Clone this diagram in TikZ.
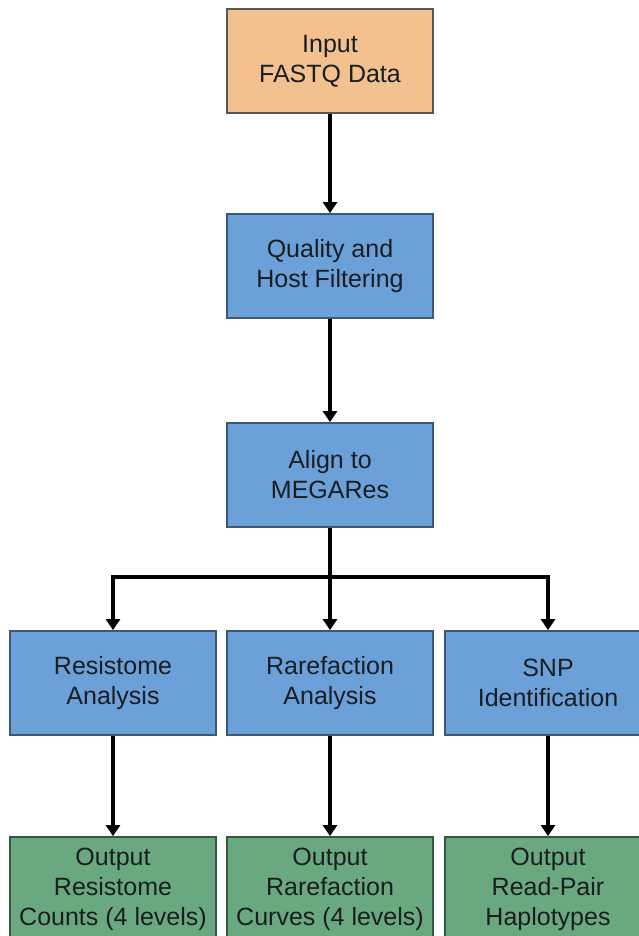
\documentclass[tikz,border=0pt]{standalone}
\usepackage{fontspec}
\setmainfont{Liberation Sans}
\usetikzlibrary{arrows.meta}
\definecolor{inputfill}{HTML}{F2C18F}
\definecolor{inputline}{HTML}{5A5550}
\definecolor{stepfill}{HTML}{6CA0D9}
\definecolor{stepline}{HTML}{3A5878}
\definecolor{outfill}{HTML}{6AA97F}
\definecolor{outline}{HTML}{2F5A3F}
\definecolor{boxtext}{HTML}{1A1E22}

\begin{document}
\begin{tikzpicture}[x=1pt,y=-1pt,
		box/.style={draw,line width=1.8pt,minimum width=206pt,minimum height=104pt,
			align=center,text=boxtext,font=\fontsize{25}{30}\selectfont},
		inbox/.style={box,fill=inputfill,draw=inputline},
		stepbox/.style={box,fill=stepfill,draw=stepline},
		outbox/.style={box,fill=outfill,draw=outline},
		flow/.style={line width=3.2pt,-{Triangle[length=11pt,width=14pt]}},
		link/.style={line width=3.2pt}]
			\useasboundingbox (0,0) rectangle (639,936);
			% pipeline
			\node[inbox] (input) at (330,61) {Input\\FASTQ Data};
			\node[stepbox] (filter) at (330,266) {Quality and\\Host Filtering};
			\node[stepbox] (align) at (330,475) {Align to\\MEGARes};
			\node[stepbox] (resist) at (113,683) {Resistome\\Analysis};
			\node[stepbox] (rare) at (330,683) {Rarefaction\\Analysis};
			\node[stepbox] (snp) at (548,683) {SNP\\Identification};
			% outputs
			\node[outbox] (resistout) at (113,889) {Output\\Resistome\\Counts (4 levels)};
			\node[outbox] (rareout) at (330,889) {Output\\Rarefaction\\Curves (4 levels)};
			\node[outbox] (snpout) at (548,889) {Output\\Read-Pair\\Haplotypes};
			\coordinate (hub) at (330,577);
			\draw[flow] (input) -- (filter);
			\draw[flow] (filter) -- (align);
			\draw[link] (align) -- (hub);
			\draw[flow] (hub) -| (resist.north);
			\draw[flow] (hub) -- (rare);
			\draw[flow] (hub) -| (snp.north);
			\draw[flow] (resist) -- (resistout);
			\draw[flow] (rare) -- (rareout);
			\draw[flow] (snp) -- (snpout);
		\end{tikzpicture}
\end{document}
